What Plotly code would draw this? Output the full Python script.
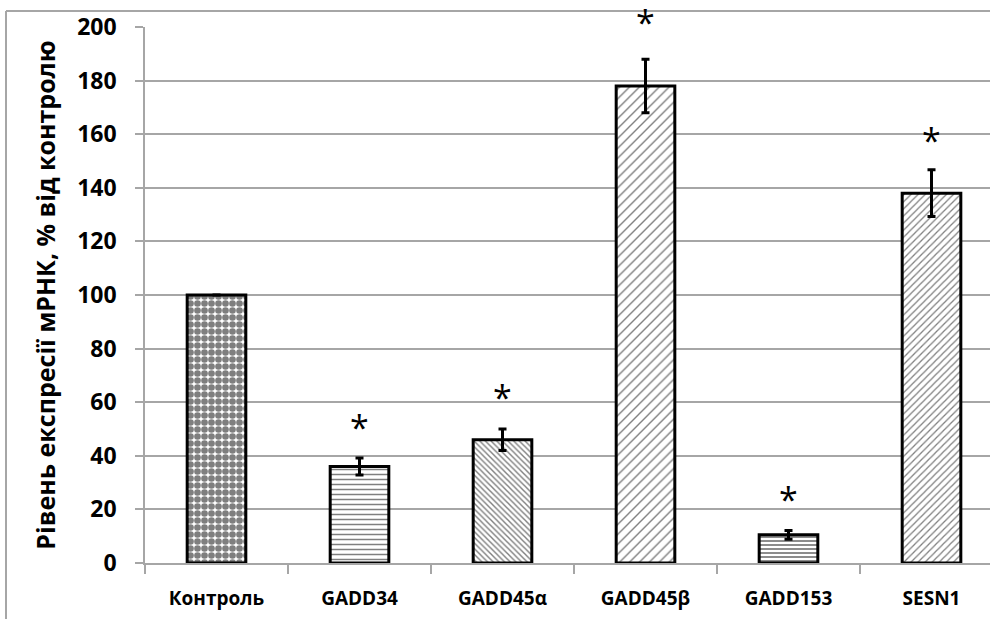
import plotly.graph_objects as go

categories = ["Контроль", "GADD34", "GADD45α", "GADD45β", "GADD153", "SESN1"]
values = [100, 36, 46, 178, 10.5, 138]
errors = [None, 3.2, 4.0, 10.0, 1.6, 8.7]
star_y = [None, 50.8, 61.8, 201.8, 23.8, 157.8]
pattern_shapes = [".", "-", "\\", "/", "-", "/"]
pattern_sizes = [7, 5, 4, 7, 4, 5]
pattern_solidity = [0.7, 0.3, 0.35, 0.2, 0.45, 0.25]
y_ticks = [0, 20, 40, 60, 80, 100, 120, 140, 160, 180, 200]

W, H = 990, 619
ML, MR, MT, MB = 145, 0, 27, 56
plot_w = W - ML - MR
plot_h = H - MT - MB
cat_px = 143.0
Y_MAX = 200

fig = go.Figure()
fig.add_trace(go.Bar(
    x=categories, y=values, width=0.41,
    marker=dict(
        color="white",
        line=dict(color="black", width=3),
        pattern=dict(shape=pattern_shapes, size=pattern_sizes, solidity=pattern_solidity,
                     fgcolor="black", bgcolor="white", fillmode="overlay"),
    ),
    error_y=dict(type="data", array=errors, visible=True, color="black", thickness=3, width=4),
    showlegend=False,
))

for c, s in zip(categories, star_y):
    if s is not None:
        fig.add_annotation(x=c, y=s / Y_MAX, xref="x", yref="paper", text="*", showarrow=False,
                           font=dict(family="Open Sans", size=34, color="black"),
                           yanchor="middle")

# outer frame (left and top borders)
fx0 = (6 - ML) / plot_w
fy_top = (H - MB - 11) / plot_h
fy_bot = (H - MB - H) / plot_h
fig.add_shape(type="line", xref="paper", yref="paper", x0=fx0, x1=fx0, y0=fy_bot, y1=fy_top,
              line=dict(color="#a6a6a6", width=2))
fig.add_shape(type="line", xref="paper", yref="paper", x0=fx0, x1=1.0, y0=fy_top, y1=fy_top,
              line=dict(color="#a6a6a6", width=2))

fig.update_layout(
    width=W, height=H,
    margin=dict(l=ML, r=MR, t=MT, b=MB, autoexpand=False),
    paper_bgcolor="white", plot_bgcolor="white",
    font=dict(family="Open Sans", color="black"),
)
fig.update_xaxes(
    range=[-0.5, -0.5 + plot_w / cat_px],
    showline=True, linecolor="#a6a6a6", linewidth=1.5,
    ticks="outside", tickson="boundaries", ticklen=9, tickcolor="#a6a6a6", tickwidth=1.5,
    ticklabelstandoff=17,
    tickfont=dict(family="Open Sans", size=19, color="black", weight="bold"),
    showgrid=False,
)
fig.update_yaxes(
    range=[0, Y_MAX], tickvals=y_ticks,
    showline=True, linecolor="#a6a6a6", linewidth=1.5,
    ticks="outside", ticklen=8, tickcolor="#a6a6a6", tickwidth=1.5,
    ticklabelstandoff=14,
    tickfont=dict(family="Open Sans", size=23, color="black", weight="bold"),
    showgrid=True, gridcolor="#a6a6a6", gridwidth=1.5,
    zeroline=False,
    title=dict(text="Рівень експресії мРНК, % від контролю",
               font=dict(family="Open Sans", size=25, color="black", weight="bold"),
               standoff=14),
)

fig.write_html("out.html")
